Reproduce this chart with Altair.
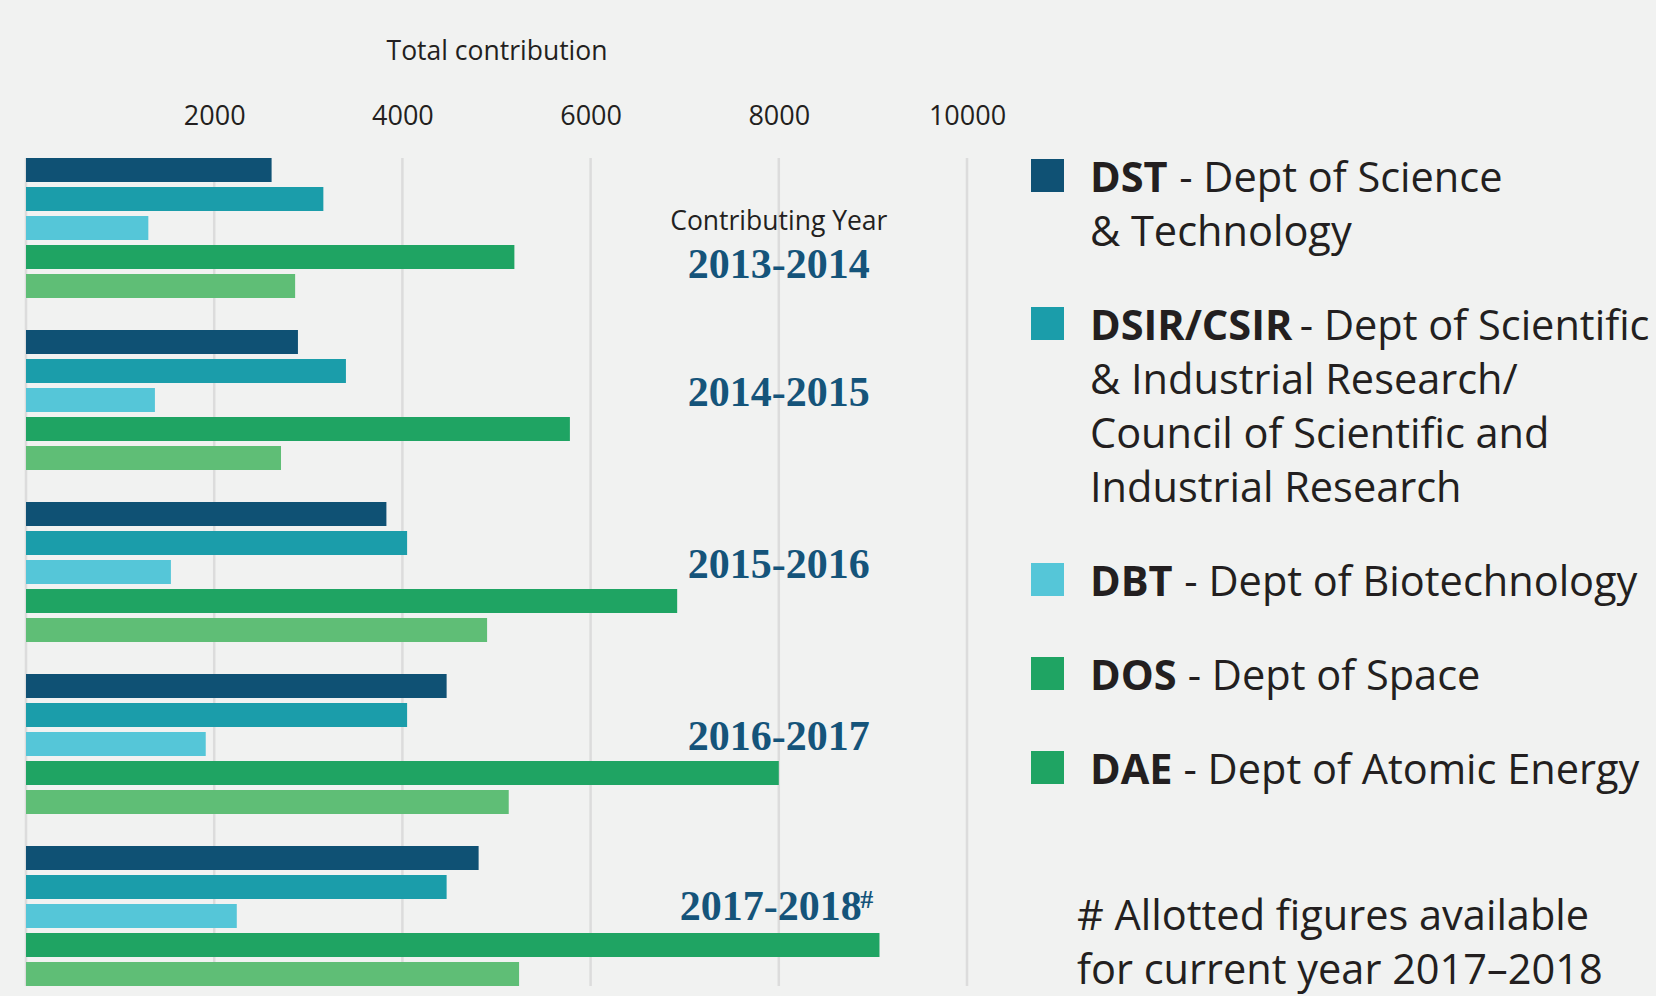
import altair as alt
import pandas as pd

# ---------------- data ----------------
years = ["2013-2014", "2014-2015", "2015-2016", "2016-2017", "2017-2018"]
depts = ["DST", "DSIR/CSIR", "DBT", "DOS", "DAE"]
dst = [2610, 2890, 3830, 4470, 4810]
dsir = [3160, 3400, 4050, 4050, 4470]
dbt = [1300, 1370, 1540, 1910, 2240]
dos = [5190, 5780, 6920, 8000, 9070]
dae = [2860, 2710, 4900, 5130, 5240]
x_ticks = [0, 2000, 4000, 6000, 8000, 10000]

bar_colors = ["#0F5174", "#1B9DAA", "#55C6D8", "#1FA463", "#5FBE76"]
swatch_colors = ["#0F5174", "#1B9DAA", "#55C6D8", "#1FA463", "#1FA463"]
dept_desc = [
    ["- Dept of Science", "& Technology"],
    ["- Dept of Scientific", "& Industrial Research/", "Council of Scientific and", "Industrial Research"],
    ["- Dept of Biotechnology"],
    ["- Dept of Space"],
    ["- Dept of Atomic Energy"],
]
footnote = ["# Allotted figures available", "for current year 2017\u20132018"]
year_header = "Contributing Year"

# ---------------- tables ----------------
series = {"DST": dst, "DSIR/CSIR": dsir, "DBT": dbt, "DOS": dos, "DAE": dae}
rows = []
for d in depts:
    for y, v in zip(years, series[d]):
        rows.append({"year": y, "dept": d, "value": v})
bars_df = pd.DataFrame(rows)
year_df = pd.DataFrame({"year": years, "label": years})
grid_df = pd.DataFrame({"tick": x_ticks})

FONT = "Open Sans"
TEXT_C = "#231F20"
YEAR_C = "#15547A"
YEAR_FONT = "Liberation Serif"
YEAR_FS = 42
PLOT_W, PLOT_H = 941, 828

x_scale = alt.Scale(domain=[0, 10000], nice=False, zero=True)
y_scale = alt.Scale(domain=years, paddingInner=0.186, paddingOuter=0)
x_axis = alt.Axis(orient="top", values=x_ticks, format="d",
                  labelExpr="datum.value == 0 ? '' : datum.label",
                  grid=False, domain=False, ticks=False, tickSize=0,
                  labelPadding=34, labelBaseline="alphabetic",
                  labelFontSize=27, labelColor=TEXT_C, labelFont=FONT,
                  labelFlush=False, labelOverlap=False,
                  title="Total contribution", titleFontSize=26.5,
                  titleFontWeight="normal", titleColor=TEXT_C, titleFont=FONT,
                  titleY=-99, titleBaseline="alphabetic")

grid = alt.Chart(grid_df).mark_rule(color="#DCDCDC", strokeWidth=2.5).encode(
    x=alt.X("tick:Q", scale=x_scale, axis=x_axis, title="Total contribution"),
    y=alt.value(0),
    y2=alt.value(PLOT_H),
)

bars = alt.Chart(bars_df).mark_bar().encode(
    x=alt.X("value:Q", scale=x_scale, axis=x_axis, title="Total contribution"),
    y=alt.Y("year:N", scale=y_scale, axis=None, sort=years),
    yOffset=alt.YOffset("dept:N", sort=depts,
                        scale=alt.Scale(domain=depts, paddingInner=0.172, paddingOuter=0)),
    color=alt.Color("dept:N", scale=alt.Scale(domain=depts, range=bar_colors), legend=None),
)


def year_text(df, dy, dx=0, size=YEAR_FS, font=YEAR_FONT, weight="bold", color=YEAR_C):
    return alt.Chart(df).mark_text(
        font=font, fontWeight=weight, fontSize=size, color=color,
        align="center", baseline="alphabetic", dy=dy, dx=dx,
    ).encode(
        x=alt.X(datum=8000, type="quantitative", scale=x_scale, axis=x_axis,
                title="Total contribution"),
        y=alt.Y("year:N", scale=y_scale, axis=None, sort=years),
        text=alt.Text("label:N"),
    )


first_lab = year_text(year_df[year_df.year == years[0]], 50)
mid_lab = year_text(year_df[year_df.year.isin(years[1:-1])], 6)
last_lab = year_text(year_df[year_df.year == years[-1]], 4, dx=-8)
hash_df = pd.DataFrame({"year": [years[-1]], "label": ["#"]})
hash_lab = year_text(hash_df, -8, dx=88, size=26)
header_df = pd.DataFrame({"year": [years[0]], "label": [year_header]})
header = year_text(header_df, 1.5, size=26.5, font=FONT, weight="normal", color=TEXT_C)

# ---------------- custom legend (layout derived from the text) ----------------
FS_LEG = 41.5
LH = 54
GAP = 40
BOLD_EM = {"D": 0.716, "S": 0.551, "T": 0.559, "I": 0.331, "R": 0.654, "/": 0.383,
           "C": 0.62, "B": 0.677, "O": 0.768, "A": 0.664, "E": 0.551}
SW_X = 1021.5
TX = 1064
FOOT_X = 1051

sw_rows, bold_rows, reg_rows = [], [], []
yb = 34
for code, desc, col in zip(depts, dept_desc, swatch_colors):
    sw_rows.append({"px": SW_X, "py": yb - 16.5, "c": col})
    bw = sum(BOLD_EM.get(ch, 0.6) for ch in code) * 0.98 * FS_LEG
    bold_rows.append({"px": TX, "py": yb, "t": code})
    reg_rows.append({"px": TX + bw + 0.36 * FS_LEG, "py": yb, "t": desc[0]})
    for line in desc[1:]:
        yb += LH
        reg_rows.append({"px": TX, "py": yb, "t": line})
    yb += LH + GAP
yb += 52
foot_rows = []
for line in footnote:
    foot_rows.append({"px": FOOT_X, "py": yb, "t": line})
    yb += LH

swatches = alt.Chart(pd.DataFrame(sw_rows)).mark_square(size=33 * 33, opacity=1).encode(
    x=alt.X("px:Q", scale=None), y=alt.Y("py:Q", scale=None),
    color=alt.Color("c:N", scale=None),
)


def leg_text(rows_, weight):
    return alt.Chart(pd.DataFrame(rows_)).mark_text(
        font=FONT, fontSize=FS_LEG, fontWeight=weight, color=TEXT_C,
        align="left", baseline="alphabetic",
    ).encode(x=alt.X("px:Q", scale=None), y=alt.Y("py:Q", scale=None), text="t:N")


leg_bold = leg_text(bold_rows, "bold")
leg_reg = leg_text(reg_rows, "normal")
leg_foot = leg_text(foot_rows, "normal")

chart = alt.layer(
    grid, bars, first_lab, mid_lab, last_lab, hash_lab, header,
    swatches, leg_bold, leg_reg, leg_foot,
).properties(
    width=PLOT_W, height=PLOT_H,
    autosize=alt.AutoSizeParams(type="none"),
    padding={"left": 26, "top": 158, "right": 689, "bottom": 10},
    background="#F1F2F1",
).configure(font=FONT).configure_view(stroke=None)

chart.save("out.html", embed_options={"renderer": "svg", "actions": False})
